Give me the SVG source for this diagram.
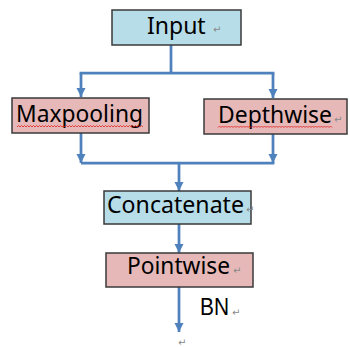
<svg xmlns="http://www.w3.org/2000/svg" width="350" height="347" viewBox="0 0 350 347">
<defs>
<style>
.box{stroke:#3a3a3a;stroke-width:1.5}
.blue{fill:#b7dde8}
.pink{fill:#e6b9b8}
.lbl{font-family:"Noto Sans","DejaVu Sans",sans-serif;font-size:23px;fill:#000}
.mark{font-family:"DejaVu Sans",sans-serif;font-size:10px;fill:#888}
.conn{stroke:#4f81bd;stroke-width:2.75;fill:none}
.spell{stroke:#e02020;stroke-width:0.8;fill:none}
</style>
<marker id="ah" viewBox="0 0 10 10" refX="10" refY="5" markerWidth="3.4" markerHeight="3.4" markerUnits="strokeWidth" orient="auto">
<path d="M0,0 L10,5 L0,10 z" fill="#4f81bd"/>
</marker>
</defs>
<rect width="350" height="347" fill="#fff"/>
<g id="connectors">
<path class="conn" d="M171,45 V73"/>
<path class="conn" d="M79.6,73 H274.4"/>
<path class="conn" d="M81,73 V97" marker-end="url(#ah)"/>
<path class="conn" d="M273,73 V98" marker-end="url(#ah)"/>
<path class="conn" d="M81,133 V163" marker-end="url(#ah)"/>
<path class="conn" d="M273,134 V163" marker-end="url(#ah)"/>
<path class="conn" d="M81,163 H274.4"/>
<path class="conn" d="M179,163 V191" marker-end="url(#ah)"/>
<path class="conn" d="M179,224 V253" marker-end="url(#ah)"/>
<path class="conn" d="M179,287 V332" marker-end="url(#ah)"/>
</g>
<g id="input">
<rect class="box blue" x="112" y="10" width="129" height="35"/>
<text class="lbl" x="147" y="34">Input</text>
<text class="mark" x="213" y="33">↵</text>
</g>
<g id="maxpooling">
<rect class="box pink" x="12" y="98" width="137" height="35"/>
<text class="lbl" x="16" y="122" textLength="127" lengthAdjust="spacingAndGlyphs">Maxpooling</text>
<path class="spell" d="M17,127 l1.5,-1.5 l1.5,1.5 l1.5,-1.5 l1.5,1.5 l1.5,-1.5 l1.5,1.5 l1.5,-1.5 l1.5,1.5 l1.5,-1.5 l1.5,1.5 l1.5,-1.5 l1.5,1.5 l1.5,-1.5 l1.5,1.5 l1.5,-1.5 l1.5,1.5 l1.5,-1.5 l1.5,1.5 l1.5,-1.5 l1.5,1.5 l1.5,-1.5 l1.5,1.5 l1.5,-1.5 l1.5,1.5 l1.5,-1.5 l1.5,1.5 l1.5,-1.5 l1.5,1.5 l1.5,-1.5 l1.5,1.5 l1.5,-1.5 l1.5,1.5 l1.5,-1.5 l1.5,1.5 l1.5,-1.5 l1.5,1.5 l1.5,-1.5 l1.5,1.5 l1.5,-1.5 l1.5,1.5 l1.5,-1.5 l1.5,1.5 l1.5,-1.5 l1.5,1.5 l1.5,-1.5 l1.5,1.5 l1.5,-1.5 l1.5,1.5 l1.5,-1.5 l1.5,1.5 l1.5,-1.5 l1.5,1.5 l1.5,-1.5 l1.5,1.5 l1.5,-1.5 l1.5,1.5 l1.5,-1.5 l1.5,1.5 l1.5,-1.5 l1.5,1.5 l1.5,-1.5 l1.5,1.5 l1.5,-1.5 l1.5,1.5 l1.5,-1.5 l1.5,1.5 l1.5,-1.5 l1.5,1.5 l1.5,-1.5 l1.5,1.5 l1.5,-1.5 l1.5,1.5 l1.5,-1.5 l1.5,1.5 l1.5,-1.5 l1.5,1.5 l1.5,-1.5 l1.5,1.5 l1.5,-1.5 l1.5,1.5 l1.5,-1.5 l1.5,1.5 l1.5,-1.5 l1.5,1.5"/>
</g>
<g id="depthwise">
<rect class="box pink" x="204" y="99" width="143" height="35"/>
<text class="lbl" x="218" y="123" textLength="114" lengthAdjust="spacingAndGlyphs">Depthwise</text>
<text class="mark" x="334" y="123">↵</text>
<path class="spell" d="M218,127.5 l1.5,-1.5 l1.5,1.5 l1.5,-1.5 l1.5,1.5 l1.5,-1.5 l1.5,1.5 l1.5,-1.5 l1.5,1.5 l1.5,-1.5 l1.5,1.5 l1.5,-1.5 l1.5,1.5 l1.5,-1.5 l1.5,1.5 l1.5,-1.5 l1.5,1.5 l1.5,-1.5 l1.5,1.5 l1.5,-1.5 l1.5,1.5 l1.5,-1.5 l1.5,1.5 l1.5,-1.5 l1.5,1.5 l1.5,-1.5 l1.5,1.5 l1.5,-1.5 l1.5,1.5 l1.5,-1.5 l1.5,1.5 l1.5,-1.5 l1.5,1.5 l1.5,-1.5 l1.5,1.5 l1.5,-1.5 l1.5,1.5 l1.5,-1.5 l1.5,1.5 l1.5,-1.5 l1.5,1.5 l1.5,-1.5 l1.5,1.5 l1.5,-1.5 l1.5,1.5 l1.5,-1.5 l1.5,1.5 l1.5,-1.5 l1.5,1.5 l1.5,-1.5 l1.5,1.5 l1.5,-1.5 l1.5,1.5 l1.5,-1.5 l1.5,1.5 l1.5,-1.5 l1.5,1.5 l1.5,-1.5 l1.5,1.5 l1.5,-1.5 l1.5,1.5 l1.5,-1.5 l1.5,1.5 l1.5,-1.5 l1.5,1.5 l1.5,-1.5 l1.5,1.5 l1.5,-1.5 l1.5,1.5 l1.5,-1.5 l1.5,1.5 l1.5,-1.5 l1.5,1.5 l1.5,-1.5 l1.5,1.5 l1.5,-1.5 l1.5,1.5"/>
</g>
<g id="concatenate">
<rect class="box blue" x="104" y="191" width="147" height="33"/>
<text class="lbl" x="107" y="213" textLength="137" lengthAdjust="spacingAndGlyphs">Concatenate</text>
<text class="mark" x="246" y="213">↵</text>
</g>
<g id="pointwise">
<rect class="box pink" x="106" y="253" width="147" height="34"/>
<text class="lbl" x="127" y="274" textLength="103" lengthAdjust="spacingAndGlyphs">Pointwise</text>
<text class="mark" x="233" y="274">↵</text>
</g>
<g id="bn">
<text x="200" y="315" font-family="Liberation Sans, Arial, sans-serif" font-size="24" textLength="29" lengthAdjust="spacingAndGlyphs">BN</text>
<text class="mark" x="232" y="316">↵</text>
</g>
<text class="mark" x="178" y="346">↵</text>
</svg>
